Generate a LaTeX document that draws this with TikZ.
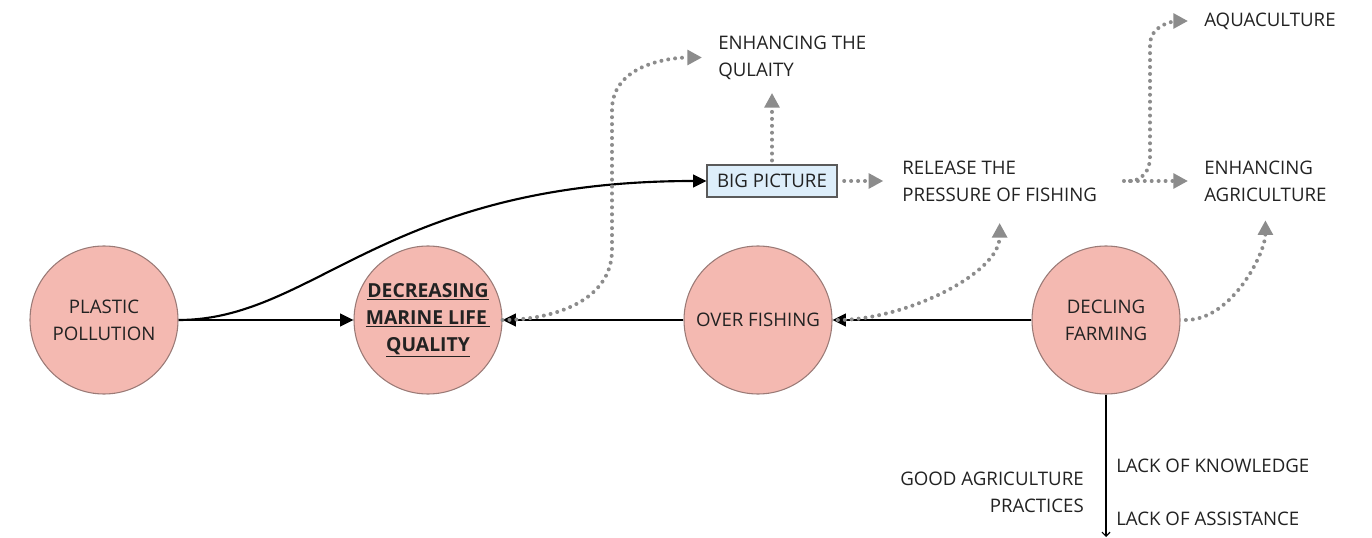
\documentclass[tikz,border=0pt]{standalone}
\usepackage{fontspec}
\setmainfont{Open Sans}
\usetikzlibrary{arrows.meta}
\definecolor{circfill}{HTML}{F4B9B1}
\definecolor{circline}{HTML}{9A7A76}
\definecolor{boxfill}{HTML}{DDEEFA}
\definecolor{boxline}{HTML}{5A5A5A}
\definecolor{dotgray}{HTML}{8C8C8C}
\definecolor{txt}{HTML}{222222}
\tikzset{
  circ/.style={circle,draw=circline,line width=0.8pt,fill=circfill,minimum size=111pt,inner sep=0pt,align=center,text=txt},
  lbl/.style={inner sep=0pt,align=left,text=txt},
  solidarr/.style={draw=black,line width=1.6pt,-{Triangle[length=10pt,width=9.5pt]}},
  dotarr/.style={draw=dotgray,line width=3pt,line cap=round,dash pattern=on 0pt off 5.2pt,-{Triangle[length=11pt,width=11pt,fill=dotgray]}},
}
\begin{document}
\begin{tikzpicture}[x=0.75pt,y=-0.75pt,font=\fontsize{14}{20.25}\selectfont]
\useasboundingbox (0,0) rectangle (1372,538);
% circles
\node[circ] (pp) at (104,320) {PLASTIC\\POLLUTION};
\node[circ,font=\fontsize{14.5}{20.25}\selectfont\bfseries] (dec) at (428,320) {\underline{DECREASING}\\\underline{MARINE LIFE\,}\\\underline{QUALITY}};
\node[circ] (of) at (758,320) {OVER FISHING};
\node[circ] (df) at (1106,320) {DECLING\\FARMING};
% box
\node[draw=boxline,line width=0.8pt,fill=boxfill,minimum width=97.5pt,minimum height=24pt,inner sep=0pt,text=txt] (big) at (772,181) {BIG PICTURE};
% labels
\node[lbl,anchor=west] (eq) at (718,57.5) {ENHANCING THE\\QULAITY};
\node[lbl,anchor=west] (rel) at (902,181) {RELEASE THE\\PRESSURE OF FISHING};
\node[lbl,anchor=west] (aq) at (1204,21) {AQUACULTURE};
\node[lbl,anchor=west] (agri) at (1204,181) {ENHANCING\\AGRICULTURE};
\node[lbl,anchor=east,align=right] (gap) at (1084,492.5) {GOOD AGRICULTURE\\PRACTICES};
\node[lbl,anchor=west] (lk) at (1116,466) {LACK OF KNOWLEDGE};
\node[lbl,anchor=west] (la) at (1116,519) {LACK OF ASSISTANCE};
\coordinate (dbot) at (1106,537);
\coordinate (br) at (1130,181);
% solid connectors
\draw[solidarr] (pp.east) -- (dec.west);
\draw[solidarr] (pp.east) .. controls (315,320) and (385,181) .. (big.west);
\draw[solidarr] (of.west) -- (dec.east);
\draw[solidarr] (df.west) -- (of.east);
\draw[black,line width=0.9pt,-{Straight Barb[length=3pt,width=6pt]}] (df.south) -- (dbot);
% dotted connectors
\draw[dotarr,shorten >=12] (dec.east) to[out=0,in=-90] (612,250) -- (612,110) to[out=90,in=180] (eq.west);
\draw[dotarr,shorten <=3,shorten >=10] (big.north) -- (big.north |- eq.south);
\draw[dotarr,shorten <=5,shorten >=14] (big.east) -- (rel.west);
\draw[dotarr,shorten <=4,shorten >=16] (of.east) to[out=0,in=-90,looseness=0.9] (rel.south);
\draw[dotarr,shorten <=20,shorten >=12] (rel.east) -- (agri.west);
\draw[dotarr,shorten >=12] (br) to[out=0,in=-90] (1150,158) -- (1150,45) to[out=90,in=180] (aq.west);
\draw[dotarr,shorten <=4,shorten >=14] (df.east) to[out=0,in=-90,looseness=0.9] (agri.south);
\end{tikzpicture}
\end{document}
